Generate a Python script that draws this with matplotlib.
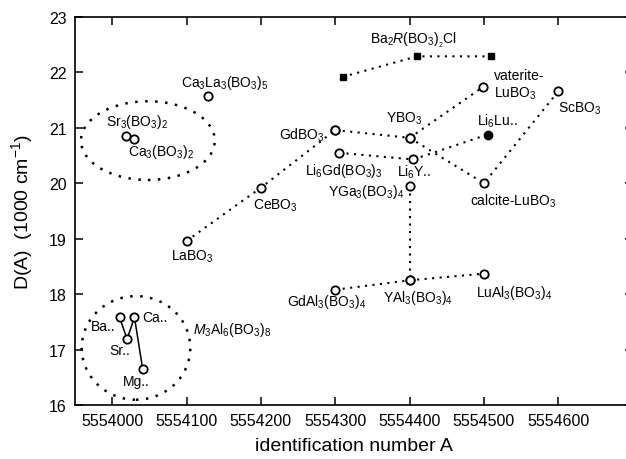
import numpy as np
import matplotlib
matplotlib.use("Agg")
import matplotlib.pyplot as plt
from matplotlib.patches import Ellipse

plt.rcParams['font.family'] = ['Liberation Sans', 'DejaVu Sans']
plt.rcParams['mathtext.fontset'] = 'custom'
plt.rcParams['mathtext.rm'] = 'Liberation Sans'
plt.rcParams['mathtext.it'] = 'Liberation Sans:italic'

## Data (A = identification number, D = D(A) in 1000 cm-1)

# simple borates
RBO3_A = [5554100, 5554200, 5554300]              # LaBO3, CeBO3, GdBO3
RBO3_D = [18.96, 19.92, 20.96]
RBO3b_A = [5554300, 5554400, 5554500, 5554600]    # GdBO3, YBO3, calcite-LuBO3, ScBO3
RBO3b_D = [20.96, 20.82, 20.00, 21.66]
Vat_A = [5554400, 5554499]                        # YBO3, vaterite-LuBO3
Vat_D = [20.82, 21.74]

# Li6R(BO3)3
Li_A = [5554305, 5554405]
Li_D = [20.55, 20.43]
LiLu_A = [5554505]
LiLu_D = [20.88]

# RGa3 / RAl3 borates
YGa_A = [5554400, 5554400]
YGa_D = [19.95, 18.25]
Al_A = [5554300, 5554400, 5554500]
Al_D = [18.08, 18.25, 18.37]

# Ba2R(BO3)2Cl
BaCl_A = [5554310, 5554410, 5554510]
BaCl_D = [21.92, 22.29, 22.29]

# single compounds
Single_A = [5554129, 5554018, 5554030]            # Ca3La3(BO3)5, Sr3(BO3)2, Ca3(BO3)2
Single_D = [21.57, 20.85, 20.80]

# M3Al6(BO3)8 (Ba, Sr, Ca, Mg)
MAl_A = [5554010, 5554020, 5554030, 5554041]
MAl_D = [17.58, 17.19, 17.58, 16.65]

# labels: (text, A, D, ha)
Labels = [
    (r"Ca$_3$La$_3$(BO$_3$)$_5$", 5554151, 21.82, 'center'),
    (r"Sr$_3$(BO$_3$)$_2$", 5554034, 21.12, 'center'),
    (r"Ca$_3$(BO$_3$)$_2$", 5554065, 20.58, 'center'),
    (r"GdBO$_3$", 5554255, 20.88, 'center'),
    (r"CeBO$_3$", 5554219, 19.62, 'center'),
    (r"LaBO$_3$", 5554108, 18.69, 'center'),
    (r"Ba$_2$$\it{R}$(BO$_3$)$_{_2}$Cl", 5554405, 22.59, 'center'),
    ("vaterite-\n" + r"LuBO$_3$", 5554514, 21.78, 'left'),
    (r"ScBO$_3$", 5554600, 21.36, 'left'),
    (r"YBO$_3$", 5554393, 21.18, 'center'),
    (r"Li$_6$Lu..", 5554518, 21.14, 'center'),
    (r"Li$_6$Gd(BO$_3$)$_3$", 5554311, 20.24, 'center'),
    (r"Li$_6$Y..", 5554406, 20.22, 'center'),
    (r"YGa$_3$(BO$_3$)$_4$", 5554341, 19.86, 'center'),
    (r"calcite-LuBO$_3$", 5554540, 19.69, 'center'),
    (r"GdAl$_3$(BO$_3$)$_4$", 5554288, 17.88, 'center'),
    (r"YAl$_3$(BO$_3$)$_4$", 5554411, 17.94, 'center'),
    (r"LuAl$_3$(BO$_3$)$_4$", 5554541, 18.03, 'center'),
    (r"$\it{M}$$_3$Al$_6$(BO$_3$)$_8$", 5554161, 17.37, 'center'),
    ("Ba..", 5553988, 17.43, 'center'),
    ("Ca..", 5554057, 17.58, 'center'),
    ("Sr..", 5554010, 17.00, 'center'),
    ("Mg..", 5554033, 16.44, 'center'),
]

fig = plt.figure(figsize=(6.26, 4.60), dpi=100)
ax = fig.add_axes([75/626, 54/460, 557.7/626, 388/460])

dot = (0, (1, 2.6))
line_kw = dict(color='k', linestyle=dot, linewidth=1.5, zorder=1)
circ_kw = dict(marker='o', markersize=6, markerfacecolor='white', markeredgecolor='k',
               markeredgewidth=1.3, linestyle='', zorder=3)

for xs, ys in [(RBO3_A, RBO3_D), (RBO3b_A, RBO3b_D), (Vat_A, Vat_D), (Li_A + LiLu_A, Li_D + LiLu_D),
               (YGa_A, YGa_D), (Al_A, Al_D), (BaCl_A, BaCl_D)]:
    ax.plot(xs, ys, **line_kw)

for xs, ys in [(RBO3_A, RBO3_D), (RBO3b_A, RBO3b_D), (Vat_A, Vat_D), (Li_A, Li_D),
               (YGa_A, YGa_D), (Al_A, Al_D), (Single_A, Single_D)]:
    ax.plot(xs, ys, **circ_kw)

ax.plot(LiLu_A, LiLu_D, marker='o', markersize=6, color='k', linestyle='', zorder=3)
ax.plot(BaCl_A, BaCl_D, marker='s', markersize=4.5, color='k', linestyle='', zorder=3)

# M3Al6(BO3)8 series, solid line
ax.plot(MAl_A, MAl_D, color='k', linewidth=1.1, zorder=2)
ax.plot(MAl_A, MAl_D, **circ_kw)

# dotted groupings
ax.add_patch(Ellipse((5554048, 20.77), 180, 1.42, fill=False, edgecolor='k',
                     linestyle=(0, (1, 3)), linewidth=1.8, zorder=1))
ax.add_patch(Ellipse((5554032, 17.03), 146, 1.87, fill=False, edgecolor='k',
                     linestyle=(0, (1, 3)), linewidth=1.8, zorder=1))

for txt, a, d, ha in Labels:
    ax.text(a, d, txt, ha=ha, va='center', fontsize=10, linespacing=1.2)

ax.set_xlim(5553950, 5554700)
ax.set_ylim(16, 23)
ax.set_xticks([5554000, 5554100, 5554200, 5554300, 5554400, 5554500, 5554600])
ax.set_yticks([16, 17, 18, 19, 20, 21, 22, 23])
ax.ticklabel_format(useOffset=False, style='plain', axis='x')
ax.tick_params(direction='in', top=True, right=True, length=6, width=1.1,
               labelsize=11.5, pad=6)
for s in ax.spines.values():
    s.set_linewidth(1.2)

ax.set_xlabel("identification number A", fontsize=14, labelpad=6)
ax.set_ylabel(r"D(A)  (1000 cm$^{-1}$)", fontsize=14, labelpad=10)

fig.savefig("out.png", dpi=100)
